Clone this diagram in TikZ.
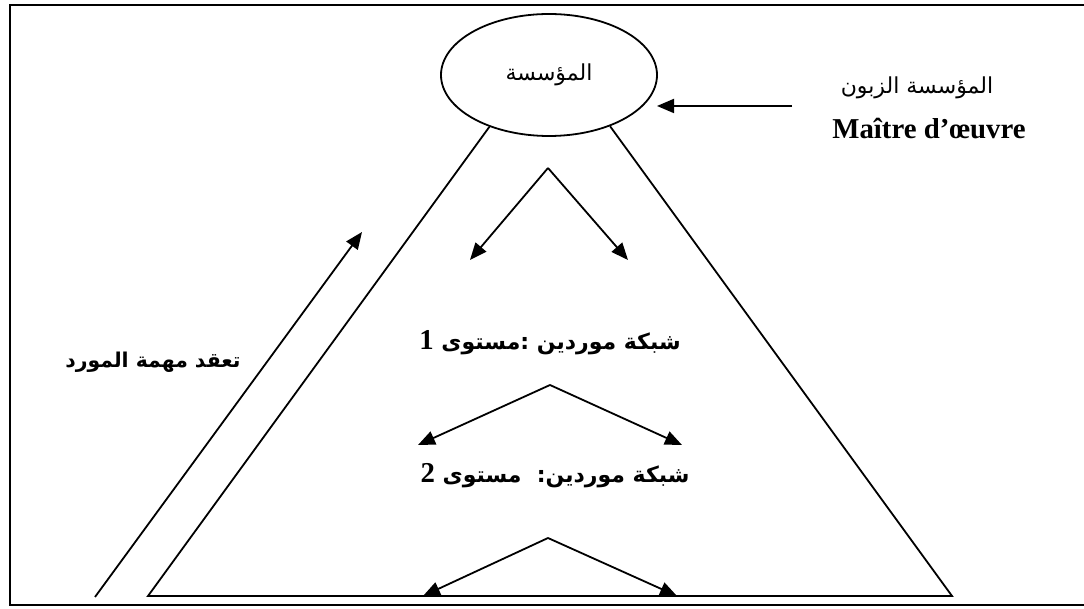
\documentclass[tikz,border=0pt]{standalone}
\usepackage{fontspec}
\setmainfont{Liberation Serif}
\newfontfamily\arabicfont[Script=Arabic]{DejaVu Sans}
\TeXXeTstate=1
\usetikzlibrary{arrows.meta, shapes.geometric}

\begin{document}
\begin{tikzpicture}[x=0.5pt, y=-0.5pt,
    ln/.style={line width=0.9pt},
    ar/.style={ln, -{Triangle[length=8.5pt, width=7pt]}},
    lbl/.style={font=\arabicfont\fontsize{11}{13}\selectfont, inner sep=0pt},
    lblb/.style={font=\arabicfont\bfseries\fontsize{11}{13}\selectfont, inner sep=0pt}
  ]
  \useasboundingbox (0,0) rectangle (1084,609);
  % frame
  \draw[ln] (1084,5) -- (10,5) -- (10,605) -- (1084,605);

  % firm and its client
  \node[draw, ellipse, ln, minimum width=108pt, minimum height=61pt, lbl] (firm) at (549,75) {\beginR المؤسسة\endR};
  \node[lbl] (client) at (917,88) {\beginR المؤسسة الزبون\endR};
  \node[font=\bfseries\fontsize{14.4}{16}\selectfont, inner sep=0pt] (moe) at (929,129) {Maître d'œuvre};
  \coordinate (cltail) at (792,106);
  \coordinate (cltip) at (657,106);
  \draw[ar] (cltail) -- (cltip);

  % pyramid
  \coordinate (bl) at (148,596);
  \coordinate (br) at (952,596);
  \draw[ln] (firm.221) -- (bl) -- (br) -- (firm.320);

  % supplier levels
  \node[lblb] (lvl1) at (550,343) {\beginR شبكة موردين :مستوى {\rmfamily\bfseries\fontsize{14.4}{16}\selectfont 1}\endR};
  \node[lblb] (lvl2) at (555,476) {\beginR شبكة موردين:\ \ مستوى {\rmfamily\bfseries\fontsize{14.4}{16}\selectfont 2}\endR};

  \coordinate (t0) at (548,168);
  \coordinate (t1) at (470,260);
  \coordinate (t2) at (628,260);
  \draw[ar] (t0) -- (t1); \draw[ar] (t0) -- (t2);
  \coordinate (m0) at (550,385);
  \coordinate (m1) at (418,445);
  \coordinate (m2) at (682,445);
  \draw[ar] (m0) -- (m1); \draw[ar] (m0) -- (m2);
  \coordinate (b0) at (548,538);
  \coordinate (b1) at (423,596);
  \coordinate (b2) at (677,596);
  \draw[ar] (b0) -- (b1); \draw[ar] (b0) -- (b2);

  % growing task
  \node[lblb, font=\arabicfont\bfseries\fontsize{10.2}{12}\selectfont] (task) at (153,362) {\beginR تعقد مهمة المورد\endR};
  \coordinate (up0) at (95,597);
  \coordinate (up1) at (362,232);
  \draw[ar] (up0) -- (up1);
\end{tikzpicture}
\end{document}
